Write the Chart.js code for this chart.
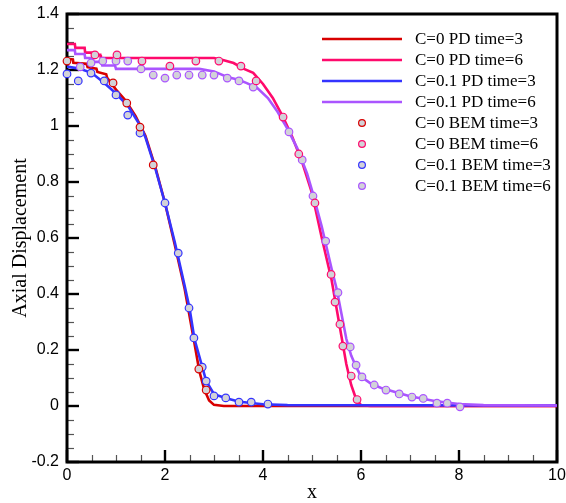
<!DOCTYPE html>
<html>
<head>
<meta charset="utf-8">
<script src="https://cdn.jsdelivr.net/npm/chart.js@4.4.1/dist/chart.umd.min.js"></script>
<style>
  html, body { margin: 0; padding: 0; background: #fff; }
  #wrap { width: 566px; height: 503px; }
</style>
</head>
<body>
<div id="wrap"><canvas id="c" width="566" height="503"></canvas></div>
<script>
// ── Data ──────────────────────────────────────────────────────────────────────
const X_TICKS = [0, 2, 4, 6, 8, 10];
const Y_TICKS = [-0.2, 0, 0.2, 0.4, 0.6, 0.8, 1, 1.2, 1.4];

// PD curves
const pdC0T3_x = [0, 0.12, 0.13, 0.4, 0.42, 0.6, 0.62, 0.8, 0.82, 1.0, 1.2, 1.4, 1.6, 1.8, 2.0, 2.2, 2.4, 2.6, 2.7, 2.8, 2.9, 3.0, 3.2, 10];
const pdC0T3_y = [1.24, 1.238, 1.226, 1.222, 1.21, 1.205, 1.193, 1.185, 1.172, 1.13, 1.09, 1.035, 0.965, 0.855, 0.725, 0.575, 0.42, 0.225, 0.125, 0.06, 0.02, 0.004, 0, 0];

const pdC0T6_x = [0, 0.16, 0.17, 0.36, 0.37, 0.53, 0.54, 0.68, 0.69, 3.0, 3.2, 3.4, 3.6, 3.8, 4.0, 4.2, 4.4, 4.6, 4.8, 5.0, 5.2, 5.4, 5.6, 5.7, 5.8, 5.9, 6.0, 6.2, 10];
const pdC0T6_y = [1.293, 1.293, 1.279, 1.279, 1.262, 1.262, 1.254, 1.254, 1.243, 1.243, 1.235, 1.225, 1.205, 1.19, 1.15, 1.1, 1.035, 0.96, 0.87, 0.76, 0.6, 0.45, 0.25, 0.15, 0.075, 0.025, 0.003, 0, 0];

const pdC1T3_x = [0, 0.25, 0.5, 0.75, 1.0, 1.25, 1.5, 1.6, 1.8, 2.0, 2.2, 2.4, 2.5, 2.6, 2.76, 2.84, 3.0, 3.25, 3.5, 3.75, 4.0, 4.5, 10];
const pdC1T3_y = [1.212, 1.205, 1.19, 1.155, 1.116, 1.07, 1.0, 0.96, 0.85, 0.725, 0.585, 0.43, 0.35, 0.24, 0.14, 0.09, 0.042, 0.028, 0.016, 0.011, 0.006, 0.003, 0.002];

const pdC1T6_x = [0, 0.16, 0.17, 0.36, 0.37, 0.53, 0.54, 0.7, 0.72, 0.98, 1.0, 2.7, 3.0, 3.27, 3.5, 3.67, 3.88, 4.1, 4.3, 4.5, 4.7, 4.9, 5.0, 5.2, 5.4, 5.5, 5.6, 5.7, 5.8, 5.9, 6.0, 6.2, 6.4, 6.8, 7.0, 7.5, 8.0, 8.5, 10];
const pdC1T6_y = [1.271, 1.271, 1.257, 1.257, 1.243, 1.243, 1.229, 1.229, 1.216, 1.216, 1.204, 1.204, 1.195, 1.175, 1.165, 1.153, 1.136, 1.1, 1.05, 0.99, 0.92, 0.83, 0.77, 0.64, 0.49, 0.42, 0.33, 0.24, 0.18, 0.14, 0.105, 0.08, 0.065, 0.045, 0.035, 0.018, 0.007, 0.003, 0.002];

// BEM points
const bemC0T3_x = [0, 0.94, 1.22, 1.49, 1.76, 2.69, 2.84];
const bemC0T3_y = [1.232, 1.154, 1.082, 0.996, 0.861, 0.132, 0.057];

const bemC0T6_x = [0.57, 1.02, 1.53, 2.1, 2.63, 3.1, 3.55, 3.86, 4.41, 4.73, 5.06, 5.39, 5.47, 5.57, 5.63, 5.8, 5.92];
const bemC0T6_y = [1.254, 1.254, 1.232, 1.214, 1.232, 1.232, 1.214, 1.161, 1.032, 0.9, 0.725, 0.47, 0.371, 0.292, 0.214, 0.107, 0.023];

const bemC1T3_x = [0, 0.23, 0.49, 0.76, 1.0, 1.24, 1.49, 2.0, 2.27, 2.49, 2.59, 2.76, 2.84, 3.0, 3.24, 3.51, 3.76, 4.1];
const bemC1T3_y = [1.186, 1.161, 1.189, 1.161, 1.111, 1.039, 0.975, 0.725, 0.546, 0.35, 0.243, 0.139, 0.089, 0.036, 0.029, 0.014, 0.014, 0.007];

const bemC1T6_x = [0.27, 0.49, 0.73, 1.0, 1.24, 1.51, 1.76, 2.0, 2.24, 2.49, 2.76, 3.0, 3.27, 3.51, 3.8, 4.53, 4.8, 5.02, 5.28, 5.53, 5.78, 5.9, 6.02, 6.27, 6.51, 6.78, 7.04, 7.27, 7.55, 7.76, 8.02];
const bemC1T6_y = [1.211, 1.225, 1.232, 1.232, 1.232, 1.204, 1.182, 1.171, 1.182, 1.182, 1.182, 1.182, 1.171, 1.161, 1.139, 0.979, 0.879, 0.75, 0.589, 0.405, 0.211, 0.146, 0.104, 0.075, 0.057, 0.043, 0.032, 0.027, 0.01, 0.01, -0.003];

const RED = "#d80000", PINK = "#ff0a6c", BLUE = "#3434ff", PURPLE = "#aa55ff";
const DOT_FILL = "#d2d2d8";

const pts = (xs, ys) => xs.map((x, i) => ({ x, y: ys[i] }));

function lineSet(label, xs, ys, color, order) {
  return { label, data: pts(xs, ys), showLine: true, borderColor: color, backgroundColor: color,
           borderWidth: 2.6, pointRadius: 0, pointHoverRadius: 0, tension: 0, order, kind: "line" };
}
function dotSet(label, xs, ys, color) {
  return { label, data: pts(xs, ys), showLine: false, borderColor: color, backgroundColor: DOT_FILL,
           borderWidth: 1.2, pointRadius: 3.8, order: 0, clip: false, kind: "dot" };
}

// ── Frame, inward ticks and legend ────────────────────────────────────────────
const framePlugin = {
  id: "frame",
  beforeDatasetsDraw(chart) {
    const { ctx, chartArea: a, scales: { x, y } } = chart;
    ctx.save();
    // minor ticks
    ctx.lineWidth = 1.2;
    ctx.strokeStyle = "#555";
    for (let v = 0.5; v < 10; v += 0.5) {
      if (Math.abs(v % 2) < 1e-6) continue;
      const px = Math.round(x.getPixelForValue(v)) + 0.5;
      ctx.beginPath(); ctx.moveTo(px, a.bottom); ctx.lineTo(px, a.bottom - 7); ctx.stroke();
    }
    for (let k = -4; k <= 28; k++) {
      if (k % 4 === 0) continue;
      const py = Math.round(y.getPixelForValue(k * 0.05)) + 0.5;
      ctx.beginPath(); ctx.moveTo(a.left, py); ctx.lineTo(a.left + 7, py); ctx.stroke();
    }
    // major ticks
    ctx.strokeStyle = "#000";
    ctx.lineWidth = 2.4;
    X_TICKS.forEach(v => {
      const px = x.getPixelForValue(v);
      ctx.beginPath(); ctx.moveTo(px, a.bottom); ctx.lineTo(px, a.bottom - 12); ctx.stroke();
    });
    Y_TICKS.forEach(v => {
      const py = y.getPixelForValue(v);
      ctx.beginPath(); ctx.moveTo(a.left, py); ctx.lineTo(a.left + 12, py); ctx.stroke();
    });
    // frame
    ctx.lineWidth = 3;
    ctx.strokeRect(a.left, a.top, a.right - a.left, a.bottom - a.top);
    ctx.restore();
  },
  afterDraw(chart) {
    const { ctx } = chart;
    ctx.save();
    ctx.font = "17px 'Liberation Serif', 'Times New Roman', serif";
    ctx.textBaseline = "middle";
    chart.data.datasets.forEach((ds, i) => {
      const yy = 39 + i * 21;
      if (ds.kind === "line") {
        ctx.strokeStyle = ds.borderColor;
        ctx.lineWidth = 2.6;
        ctx.beginPath(); ctx.moveTo(322, yy); ctx.lineTo(402, yy); ctx.stroke();
      } else {
        ctx.fillStyle = DOT_FILL;
        ctx.strokeStyle = ds.borderColor;
        ctx.lineWidth = 1.2;
        ctx.beginPath(); ctx.arc(362, yy, 3.4, 0, Math.PI * 2); ctx.fill(); ctx.stroke();
      }
      ctx.fillStyle = "#000";
      ctx.fillText(ds.label, 415, yy + 1);
    });
    ctx.restore();
  },
};

const tickFont = { family: "'Liberation Sans', Arial, sans-serif", size: 16 };
const titleFont = { family: "'Liberation Serif', 'Times New Roman', serif", size: 20 };

new Chart(document.getElementById("c"), {
  type: "scatter",
  data: {
    datasets: [
      lineSet("C=0 PD time=3", pdC0T3_x, pdC0T3_y, RED, 4),
      lineSet("C=0 PD time=6", pdC0T6_x, pdC0T6_y, PINK, 3),
      lineSet("C=0.1 PD time=3", pdC1T3_x, pdC1T3_y, BLUE, 2),
      lineSet("C=0.1 PD time=6", pdC1T6_x, pdC1T6_y, PURPLE, 1),
      dotSet("C=0 BEM time=3", bemC0T3_x, bemC0T3_y, RED),
      dotSet("C=0 BEM time=6", bemC0T6_x, bemC0T6_y, PINK),
      dotSet("C=0.1 BEM time=3", bemC1T3_x, bemC1T3_y, BLUE),
      dotSet("C=0.1 BEM time=6", bemC1T6_x, bemC1T6_y, PURPLE),
    ],
  },
  options: {
    responsive: false,
    animation: false,
    layout: { padding: { top: 14, right: 9, left: 0, bottom: 0 } },
    plugins: { legend: { display: false }, tooltip: { enabled: false } },
    scales: {
      x: {
        type: "linear", min: 0, max: 10,
        afterBuildTicks: s => { s.ticks = X_TICKS.map(v => ({ value: v })); },
        afterFit: s => { s.height = 41; s.paddingRight = 0; s.paddingLeft = 0; },
        grid: { display: false, drawTicks: false },
        border: { display: false },
        ticks: { color: "#000", font: tickFont, padding: 4, maxRotation: 0, autoSkip: false },
        title: { display: true, text: "x", color: "#000", font: titleFont, padding: { top: 0, bottom: -2 } },
      },
      y: {
        type: "linear", min: -0.2, max: 1.4,
        afterBuildTicks: s => { s.ticks = Y_TICKS.map(v => ({ value: v })); },
        afterFit: s => { s.width = 67; s.paddingTop = 0; s.paddingBottom = 0; },
        grid: { display: false, drawTicks: false },
        border: { display: false },
        ticks: { color: "#000", font: tickFont, padding: 8, autoSkip: false,
                 callback: v => String(Number(v.toFixed(1))) },
        title: { display: true, text: "Axial Displacement", color: "#000", font: titleFont, padding: { top: 9, bottom: 0 } },
      },
    },
  },
  plugins: [framePlugin],
});
</script>
</body>
</html>
